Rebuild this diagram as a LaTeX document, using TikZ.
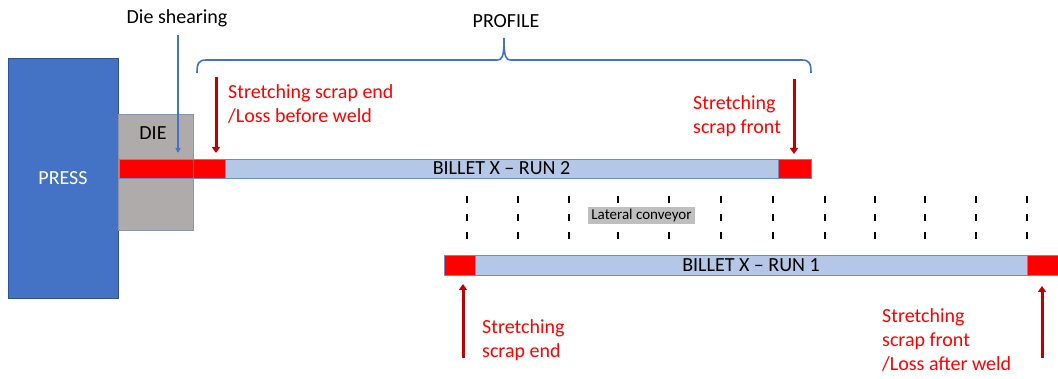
\documentclass[tikz,border=0pt]{standalone}
\usepackage{fontspec}
\setmainfont{Carlito}
\usetikzlibrary{arrows.meta}
\definecolor{pressblue}{HTML}{4472C4}
\definecolor{pressline}{HTML}{2F528F}
\definecolor{diegray}{HTML}{AFABAB}
\definecolor{dieline}{HTML}{8496B0}
\definecolor{billetblue}{HTML}{B4C7E7}
\definecolor{barline}{HTML}{6A8CC7}
\definecolor{scrapred}{HTML}{FF0000}
\definecolor{arrowred}{HTML}{C00000}
\definecolor{convgray}{HTML}{BFBFBF}
\tikzset{
  box/.style={rectangle, draw, inner sep=0pt, outer sep=0pt},
  seg/.style={box, draw=barline, line width=0.8pt, minimum height=19pt},
  scrapseg/.style={seg, fill=scrapred},
  billetseg/.style={seg, fill=billetblue},
  lbl/.style={font=\fontsize{20}{24}\selectfont, inner sep=0pt},
  redlbl/.style={lbl, text=scrapred, align=left, anchor=west},
  redarrow/.style={draw=arrowred, line width=3pt, -{Triangle[length=6pt,width=8pt]}},
  bluearrow/.style={draw=pressblue, line width=1.3pt, -{Triangle[length=5pt,width=5pt]}},
  bracestyle/.style={draw=pressblue, line width=1.6pt},
  convdash/.style={draw=black, line width=2pt, dash pattern=on 7pt off 11pt}
}
\begin{document}
\begin{tikzpicture}[x=1pt,y=-1pt]
\useasboundingbox (0,0) rectangle (1058,379);

% press and die
\node[box, draw=pressline, fill=pressblue, line width=0.8pt, minimum width=110pt, minimum height=240pt,
      text=white, font=\fontsize{20}{24}\selectfont] (press) at (63,178) {PRESS};
\node[box, draw=dieline, fill=diegray, line width=0.8pt, minimum width=75pt, minimum height=116pt] (die) at (155.5,172) {};
\node[lbl] (dielbl) at (153,133) {DIE};

% billet run 2
\node[scrapseg, minimum width=74pt] (dscrap) at (156,168.5) {};
\node[scrapseg, minimum width=32pt] (s2) at (209,168.5) {};
\node[billetseg, minimum width=553pt, font=\fontsize{20}{24}\selectfont] (b2) at (501.5,168.5) {BILLET X – RUN 2};
\node[scrapseg, minimum width=33pt] (f2) at (794.5,168.5) {};

% lateral conveyor dashes
\foreach \x in {467,518,569,618,669,721,773,825,875,925,976,1027}
  \draw[convdash] (\x,196) -- (\x,240);
\node[box, draw=none, fill=convgray, minimum width=107pt, minimum height=17pt,
      font=\fontsize{15}{18}\selectfont] (conv) at (641.5,215.5) {Lateral conveyor};

% billet run 1
\node[scrapseg, minimum width=31pt, minimum height=20pt] (r1a) at (459.5,265) {};
\node[billetseg, minimum width=552pt, minimum height=20pt, font=\fontsize{20}{24}\selectfont] (b1) at (751,265) {BILLET X – RUN 1};
\node[scrapseg, minimum width=31pt, minimum height=20pt] (r1b) at (1042.5,265) {};

% top labels
\node[lbl] (ds) at (177,18) {Die shearing};
\node[lbl] (prof) at (506,21) {PROFILE};

% brace
\coordinate (brL) at (197,73);
\coordinate (brT) at (504,38);
\coordinate (brR) at (811,73);
\draw[bracestyle] (brL) .. controls (197,63) and (199,60) .. (206,60) -- (497,60)
  .. controls (502,60) and (504,58) .. (brT)
  .. controls (504,58) and (506,60) .. (511,60) -- (802,60)
  .. controls (809,60) and (811,63) .. (brR);

% arrows
\coordinate (dstop) at (178,35);
\draw[bluearrow, shorten >=6pt] (dstop) -- (dstop |- dscrap.north);
\coordinate (a1top) at (216,77);
\draw[redarrow, shorten >=6pt] (a1top) -- (a1top |- s2.north);
\coordinate (a2top) at (794,79);
\draw[redarrow, shorten >=5pt] (a2top) -- (a2top |- f2.north);
\coordinate (a3bot) at (463,358);
\draw[redarrow, shorten >=9pt] (a3bot) -- (a3bot |- r1a.south);
\coordinate (a4bot) at (1042,358);
\draw[redarrow, shorten >=11pt] (a4bot) -- (a4bot |- r1b.south);

% red labels
\node[redlbl] (t1) at (228,104) {Stretching scrap end\\/Loss before weld};
\node[redlbl] (t2) at (693,116) {Stretching\\scrap front};
\node[redlbl] (t3) at (482,340) {Stretching\\scrap end};
\node[redlbl] (t4) at (882,340) {Stretching\\scrap front\\/Loss after weld};
\end{tikzpicture}
\end{document}
